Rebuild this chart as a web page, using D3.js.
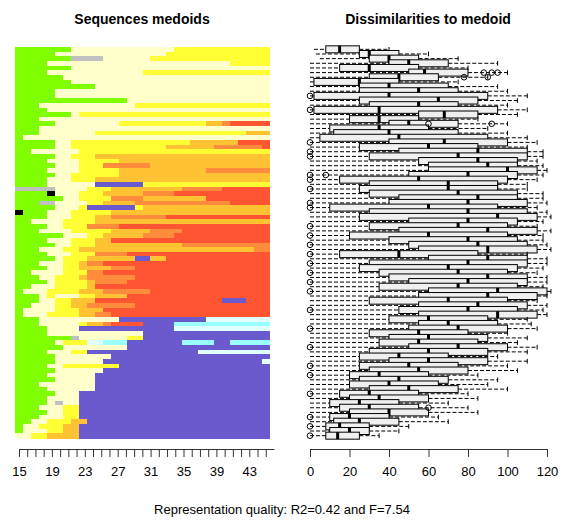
<!DOCTYPE html>
<html><head><meta charset="utf-8">
<script src="https://cdn.jsdelivr.net/npm/d3@7"></script>
<style>body{margin:0;background:#fff}text{font-family:"Liberation Sans",Arial,sans-serif}</style>
</head><body><svg id="chart" width="568" height="522"></svg>
<script>
// ages covered by the sequences
const ages = d3.range(15, 47);
const ageTicks = d3.range(15, 46);
const ageLabels = [15, 19, 23, 27, 31, 35, 39, 43];
const distTicks = [0, 20, 40, 60, 80, 100, 120];

// state codes -> colours
const states = ["G","C","Y","O","R","D","P","B","W","S","K"];
const stateColors = ["#7FFF00","#FFFFCC","#FFFF33","#FFC233","#FF8C3C","#FF5533","#6A5ACD","#99FFFF","#E0FFFF","#C0C0C0","#000000"];

// medoid sequences, run-length coded
const sequences = [
"G7C13Y12","G5C14Y13","G7S4C6Y15","G4C23Y5","G7C25","G4C12Y16","G6C26","G7C25","G10C22","G5C27",
"G5C27","G14C18","G3C12Y17","G4C28","G7C1Y24","G3C29","G5C8Y11O2R1D5","G3C29","G3C7Y19O3","G1C31",
"G5C2Y15O6D4","G5C2Y12O6R6D1","G2C6Y24","G5C2Y3O22","G4C4Y5O19","G5C3Y3R6O15","G4C4Y5O11R8","G5C2Y6O19","G4C3Y3O22","G4C6P6Y16",
"S5C4Y3O9R5D6","G4K1C3Y3O5R4D12","G6C2Y4R4O8D8","G3S2C4Y2O4R12D5","G5C3Y1P6Y1O16","K1G3C3Y5O20","G4C3Y3O2R7D13","G2C4Y4O22","G4C2Y3R4D19","G3C4Y5O5R4D11",
"G6C3Y2O5R4D12","G4C3Y3O2D20","G5C2Y3O11R11","G3C3Y2O22R2","G4C3Y3R4D18","G5C1Y3O6P2O2D13","G3C3Y2O1R2D21","G4C2Y2O4R3D17","G2C4Y3R2D21","G3C2Y3O1R6D17",
"G4C1Y4O1R4D18","G2C3Y4O1D22","G1C3Y4O3R6D15","G3C1Y1C3Y2O4D18","G3C2Y2O3D16P3D3","G2C3Y2O2R6D17","G1C4Y3O3D21","G1C3Y4O2R2D20","G3C10P11W8","G3C5Y1O2R1D4P4B12",
"G4C4P12W12","G4C12P16","G7S1C6Y2P16","G5C1Y3W2B3P7B4P2B5","G6C8P18","G4C3Y2P14W9","G5C7P20","G5C6P20W1","G4C2Y7P19","G5C6P21",
"G4C6P22","G5C5P22","G3C7P22","G4C6P22","G5C3P24","G4C4P24","G4C1S1C2P24","G3C3Y2P24","G4C2Y2P24","G3C3Y2P24",
"G2C2Y3O2P23","G1C2Y3O2P24","G1C3Y2O2P24","C2Y2O4P24"
];

// dissimilarities to medoid per row: lower whisker, q1, median, q3, upper whisker
const dLo = [2,3,5,0,0,0,0,0,0,0, 0,0,0,0,0,0,0,0,0,0, 0,0,0,0,0,0,0,0,0,0, 0,0,0,0,0,0,0,0,0,0, 0,0,0,0,0,0,0,0,0,0, 0,0,0,0,0,0,0,0,0,0, 0,0,0,0,0,0,0,0,0,0, 0,0,0,0,0,0,0,0,0,0, 0,0,0,0];
const dQ1 = [8,25,30,40,15,50,30,2,25,25, 2,25,30,2,55,20,40,10,12,5, 40,25,45,30,55,60,60,50,15,30, 25,30,45,40,10,30,25,50,30,45, 20,40,50,55,15,60,30,25,35,40, 50,35,60,55,30,55,45,55,40,55, 50,30,40,35,50,30,25,40,25,30, 20,25,20,30,15,20,10,15,20,10, 12,8,10,8];
const dMed = [15,30,40,50,30,58,45,25,40,55, 40,65,55,35,68,35,50,35,40,45, 68,60,85,75,85,90,100,80,55,70, 70,75,85,80,60,80,95,80,75,90, 60,80,85,90,45,90,80,70,75,90, 80,75,95,90,70,85,80,95,60,70, 75,55,60,55,75,60,45,60,50,55, 35,45,40,50,30,35,25,30,40,20, 25,15,20,14];
const dQ3 = [25,45,55,70,55,80,65,45,70,75, 90,85,75,95,85,55,75,60,75,90, 100,85,110,110,105,105,115,105,100,95, 95,105,105,110,95,110,115,105,100,115, 100,105,110,115,85,110,110,105,100,110, 110,105,120,115,100,110,105,115,90,95, 100,80,90,85,100,90,70,90,75,80, 60,70,65,75,55,60,45,55,60,40, 45,30,30,25];
const dHi = [40,60,75,95,80,100,90,75,95,100, 110,105,100,110,105,85,100,90,100,110, 115,110,118,118,115,118,120,118,115,110, 110,118,118,120,115,120,122,118,115,122, 118,118,120,122,110,120,120,118,115,120, 120,118,122,120,115,120,118,120,110,112, 115,100,110,105,115,110,95,110,100,105, 85,95,90,100,80,85,70,80,85,65, 70,50,45,35];
// outliers drawn as circles: [row, value]
const outliers = [[5,88],[5,92],[5,95],[6,78],[6,90],[10,0],[13,0],[16,60],[16,92],[20,0],[22,0],[23,0],[27,0],[27,8],[28,0],[30,0],[33,0],[34,0],[38,0],[40,0],[42,0],[44,0],[46,0],[48,0],[50,0],[52,0],[56,0],[60,0],[64,0],[68,0],[70,0],[74,0],[79,0],[81,0],[83,0],[77,60]];

const svg = d3.select("#chart");
const plotTop = 47, plotBottom = 438;

function decode(s) {
  const out = [];
  for (const m of s.matchAll(/([A-Z])(\d+)/g)) for (let i = 0; i < +m[2]; i++) out.push(m[1]);
  return out.slice(0, 32);
}

const color = d3.scaleOrdinal().domain(states).range(stateColors);
const x = d3.scaleBand().domain(ages).range([15, 270]);
const y = d3.scaleBand().domain(d3.range(sequences.length)).range([plotTop, plotBottom]);

// sequences panel
const rows = svg.append("g").attr("shape-rendering", "crispEdges").selectAll("g").data(sequences).join("g");
rows.selectAll("rect")
  .data((s, i) => decode(s).map((st, j) => ({st, age: ages[j], row: i})))
  .join("rect")
  .attr("x", d => x(d.age))
  .attr("y", d => y(d.row))
  .attr("width", d => d.age === 46 ? x.bandwidth() : x.bandwidth() + 1)
  .attr("height", y.bandwidth() + 0.6)
  .attr("fill", d => color(d.st));

const ageAxis = d3.axisBottom(d3.scaleLinear().domain([15, 46]).range([15 + x.bandwidth() / 2, 270 + x.bandwidth() / 2]))
  .tickValues(ageTicks).tickSize(8).tickSizeOuter(0)
  .tickFormat(d => ageLabels.includes(d) ? d : "");
const ga = svg.append("g").attr("transform", "translate(0,449)").call(ageAxis);

// dissimilarity panel
const dx = d3.scaleLinear().domain([0, 120]).range([310, 547]);
const bh = y.bandwidth() * 1.5;
const bp = svg.append("g").selectAll("g").data(sequences).join("g")
  .attr("transform", (d, i) => `translate(0,${y(i) + y.bandwidth() / 2})`);
bp.append("line").attr("x1", (d, i) => dx(dLo[i])).attr("x2", (d, i) => dx(dQ1[i]))
  .attr("stroke", "#000").attr("stroke-dasharray", "4,2");
bp.append("line").attr("x1", (d, i) => dx(dQ3[i])).attr("x2", (d, i) => dx(dHi[i]))
  .attr("stroke", "#000").attr("stroke-dasharray", "4,2");
bp.append("line").attr("x1", (d, i) => dx(dHi[i])).attr("x2", (d, i) => dx(dHi[i]))
  .attr("y1", -bh / 3).attr("y2", bh / 3).attr("stroke", "#000");
bp.append("rect").attr("x", (d, i) => dx(dQ1[i])).attr("y", -bh / 2)
  .attr("width", (d, i) => dx(dQ3[i]) - dx(dQ1[i])).attr("height", bh)
  .attr("fill", "#f0f0f0").attr("stroke", "#000").attr("stroke-width", 1);
bp.append("line").attr("x1", (d, i) => dx(dMed[i])).attr("x2", (d, i) => dx(dMed[i]))
  .attr("y1", -bh / 2).attr("y2", bh / 2).attr("stroke", "#000").attr("stroke-width", 3);
svg.append("g").selectAll("circle").data(outliers).join("circle")
  .attr("cx", d => dx(d[1])).attr("cy", d => y(d[0]) + y.bandwidth() / 2).attr("r", 2.8)
  .attr("fill", "none").attr("stroke", "#000");

const gd = svg.append("g").attr("transform", "translate(0,449)")
  .call(d3.axisBottom(dx).tickValues(distTicks).tickSize(8).tickSizeOuter(0));

[ga, gd].forEach(g => {
  g.select(".domain").attr("stroke", "#333");
  g.selectAll("line").attr("stroke", "#333");
  g.selectAll("text").attr("font-size", 13).attr("fill", "#000").attr("dy", "1.25em");
});

svg.append("text").attr("x", 142).attr("y", 24).attr("text-anchor", "middle")
  .attr("font-weight", "bold").attr("font-size", 14).text("Sequences medoids");
svg.append("text").attr("x", 428).attr("y", 24).attr("text-anchor", "middle")
  .attr("font-weight", "bold").attr("font-size", 14).text("Dissimilarities to medoid");
svg.append("text").attr("x", 282).attr("y", 514).attr("text-anchor", "middle")
  .attr("font-size", 13).text("Representation quality: R2=0.42 and F=7.54");
</script></body></html>
